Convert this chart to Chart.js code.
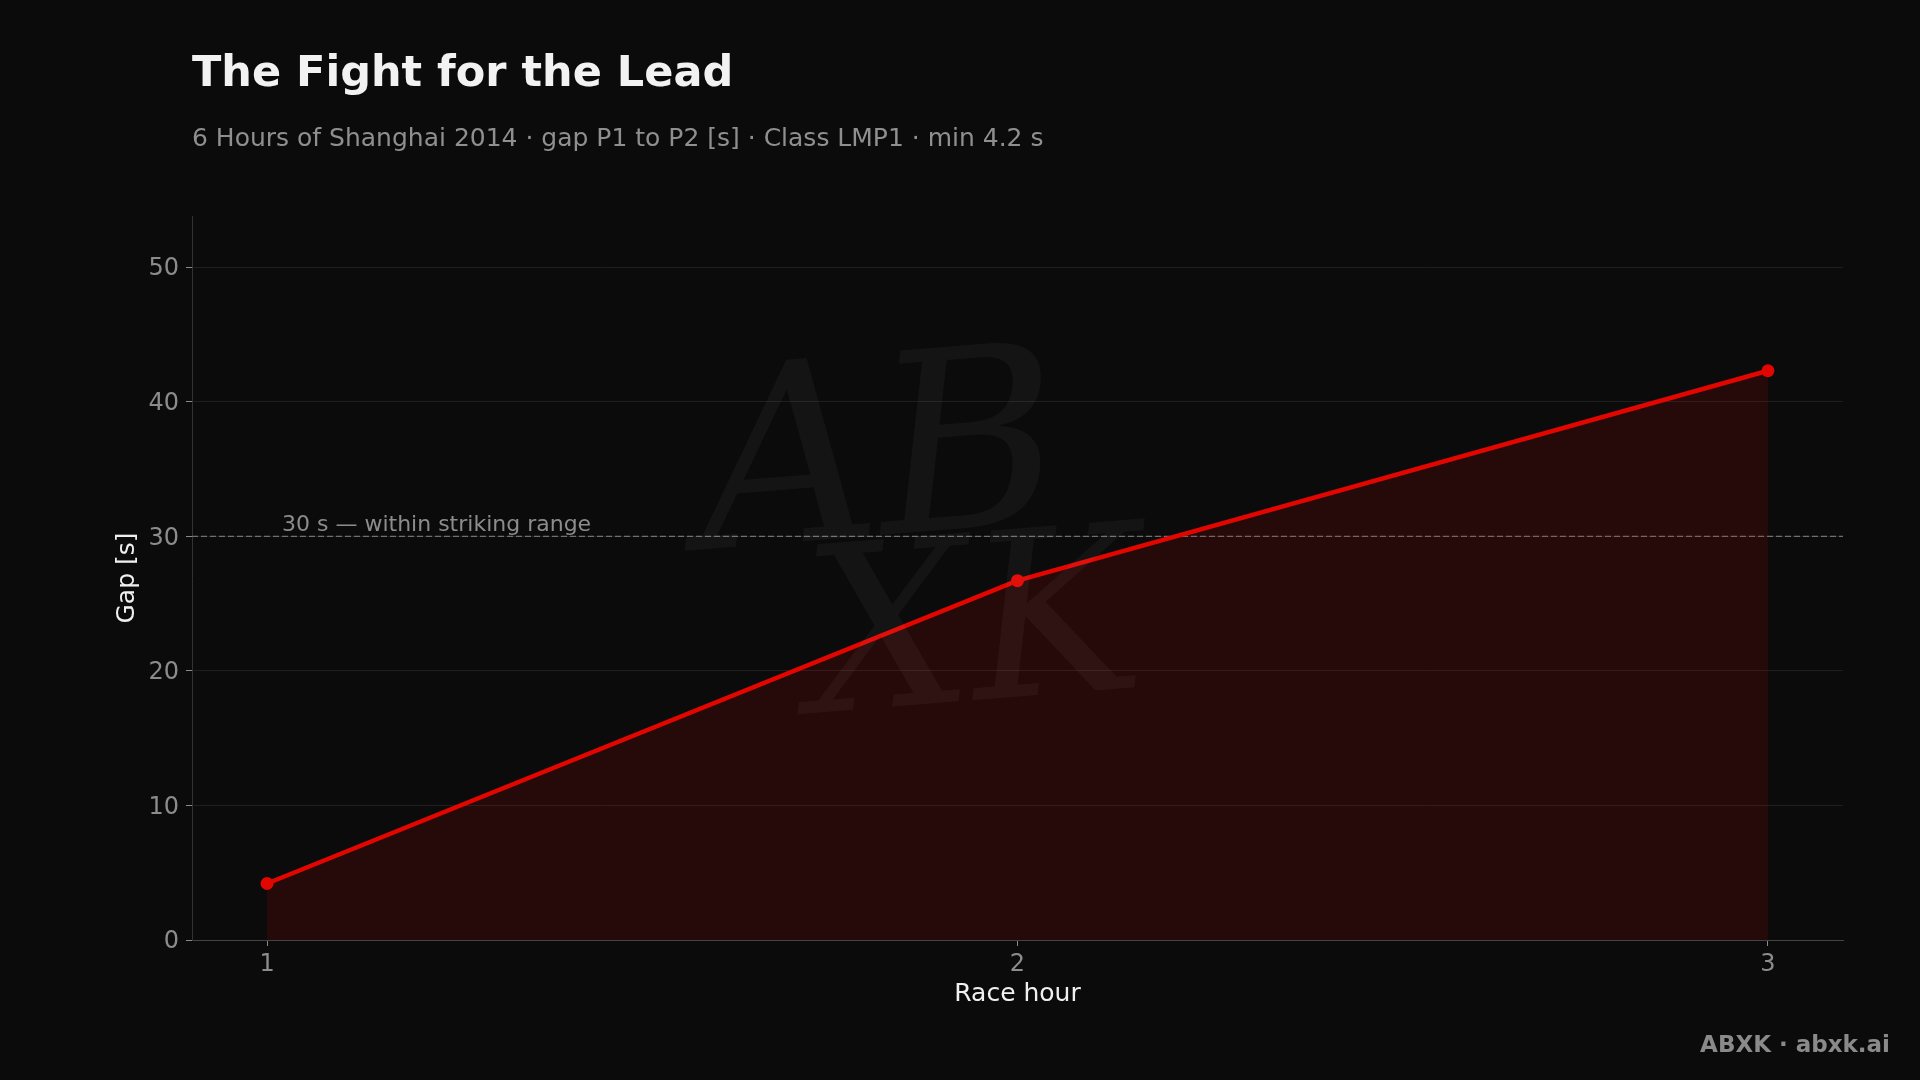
<!DOCTYPE html>
<html><head><meta charset="utf-8">
<script src="https://cdn.jsdelivr.net/npm/chart.js@4/dist/chart.umd.min.js"></script>
<style>html,body{margin:0;padding:0;background:#0b0b0b;overflow:hidden}canvas{display:block}</style>
</head><body>
<canvas id="c" width="1920" height="1080"></canvas>
<script>
const raceHours = [1, 2, 3];
const gapSeconds = [4.2, 26.7, 42.3];
const yTickValues = [0, 10, 20, 30, 40, 50];
const xTickValues = [1, 2, 3];
const thresholdValue = 30;
const thresholdLabel = '30 s \u2014 within striking range';
const titleText = 'The Fight for the Lead';
const subtitleText = '6 Hours of Shanghai 2014 \u00b7 gap P1 to P2 [s] \u00b7 Class LMP1 \u00b7 min 4.2 s';
const footerText = 'ABXK \u00b7 abxk.ai';
const xAxisTitle = 'Race hour';
const yAxisTitle = 'Gap [s]';
const watermarkTop = 'AB';
const watermarkBottom = 'XK';

const FONT = "'DejaVu Sans', 'Noto Sans', sans-serif";
const BG = '#0b0b0b';
const RED = '#e10600';

const decor = {
  id: 'decor',
  beforeDraw(chart) {
    const ctx = chart.ctx;
    ctx.save();
    ctx.fillStyle = BG;
    ctx.fillRect(0, 0, chart.width, chart.height);
    ctx.restore();
  },
  beforeDatasetsDraw(chart) {
    const ctx = chart.ctx;
    const area = chart.chartArea;
    const y = chart.scales.y.getPixelForValue(thresholdValue);
    ctx.save();
    ctx.strokeStyle = '#707070';
    ctx.lineWidth = 1.2;
    ctx.setLineDash([6, 3]);
    ctx.beginPath();
    ctx.moveTo(area.left, y);
    ctx.lineTo(area.right, y);
    ctx.stroke();
    ctx.setLineDash([]);
    ctx.fillStyle = '#8c8c8c';
    ctx.font = '22px ' + FONT;
    ctx.textAlign = 'left';
    ctx.textBaseline = 'alphabetic';
    ctx.fillText(thresholdLabel, area.left + 90, y - 5);
    ctx.restore();
  },
  afterDatasetsDraw(chart) {
    const ctx = chart.ctx;
    ctx.save();
    ctx.fillStyle = 'rgba(255,255,255,0.04)';
    ctx.textAlign = 'center';
    ctx.textBaseline = 'middle';
    ctx.font = "italic 250px 'DejaVu Serif', serif";
    ctx.translate(880, 470);
    ctx.rotate(-0.08);
    ctx.fillText(watermarkTop, 0, 0);
    ctx.restore();
    ctx.save();
    ctx.fillStyle = 'rgba(255,255,255,0.04)';
    ctx.textAlign = 'center';
    ctx.textBaseline = 'middle';
    ctx.font = "italic 230px 'DejaVu Serif', serif";
    ctx.translate(975, 640);
    ctx.rotate(-0.08);
    ctx.fillText(watermarkBottom, 0, 0);
    ctx.restore();
  },
  afterDraw(chart) {
    const ctx = chart.ctx;
    ctx.save();
    ctx.textBaseline = 'alphabetic';
    ctx.textAlign = 'left';
    ctx.fillStyle = '#f2f2f2';
    ctx.font = 'bold 43px ' + FONT;
    ctx.fillText(titleText, 192, 86);
    ctx.fillStyle = '#8f8f8f';
    ctx.font = '25px ' + FONT;
    ctx.fillText(subtitleText, 192, 146);
    ctx.textAlign = 'right';
    ctx.fillStyle = '#8a8a8a';
    ctx.font = 'bold 23px ' + FONT;
    ctx.fillText(footerText, 1890, 1052);
    ctx.restore();
  }
};

new Chart(document.getElementById('c'), {
  type: 'line',
  data: {
    datasets: [{
      label: yAxisTitle,
      data: raceHours.map((h, i) => ({ x: h, y: gapSeconds[i] })),
      borderColor: RED,
      borderWidth: 4.5,
      backgroundColor: 'rgba(225,6,0,0.13)',
      fill: 'origin',
      tension: 0,
      pointRadius: 6.5,
      pointBackgroundColor: RED,
      pointBorderColor: RED,
      pointBorderWidth: 0
    }]
  },
  options: {
    responsive: false,
    animation: false,
    devicePixelRatio: 1,
    layout: { padding: { left: 108, right: 77, top: 216, bottom: 67 } },
    plugins: { legend: { display: false }, tooltip: { enabled: false }, title: { display: false } },
    scales: {
      x: {
        type: 'linear',
        min: 0.9,
        max: 3.1,
        afterBuildTicks: s => { s.ticks = xTickValues.map(v => ({ value: v })); },
        afterFit: s => { s.height = 73; },
        grid: { drawOnChartArea: false, drawTicks: true, tickLength: 6, tickColor: '#8a8a8a' },
        border: { display: true, color: '#444444', width: 1 },
        ticks: { color: '#8c8c8c', font: { family: FONT, size: 24 }, padding: 4, callback: v => String(v) },
        title: { display: true, text: xAxisTitle, color: '#f0f0f0', font: { family: FONT, size: 25 }, padding: { top: 4, bottom: 4 } }
      },
      y: {
        type: 'linear',
        min: 0,
        max: 53.8,
        afterBuildTicks: s => { s.ticks = yTickValues.map(v => ({ value: v })); },
        afterFit: s => { s.width = 84; },
        grid: { color: '#1f1f1f', lineWidth: 1, drawTicks: true, tickLength: 6, tickColor: '#8a8a8a' },
        border: { display: true, color: '#333333', width: 1 },
        ticks: { color: '#8c8c8c', font: { family: FONT, size: 24 }, padding: 7, labelOffset: 2, callback: v => String(v) },
        title: { display: true, text: yAxisTitle, color: '#f0f0f0', font: { family: FONT, size: 25 }, padding: { top: 4, bottom: 4 } }
      }
    }
  },
  plugins: [decor]
});
</script>
</body></html>
